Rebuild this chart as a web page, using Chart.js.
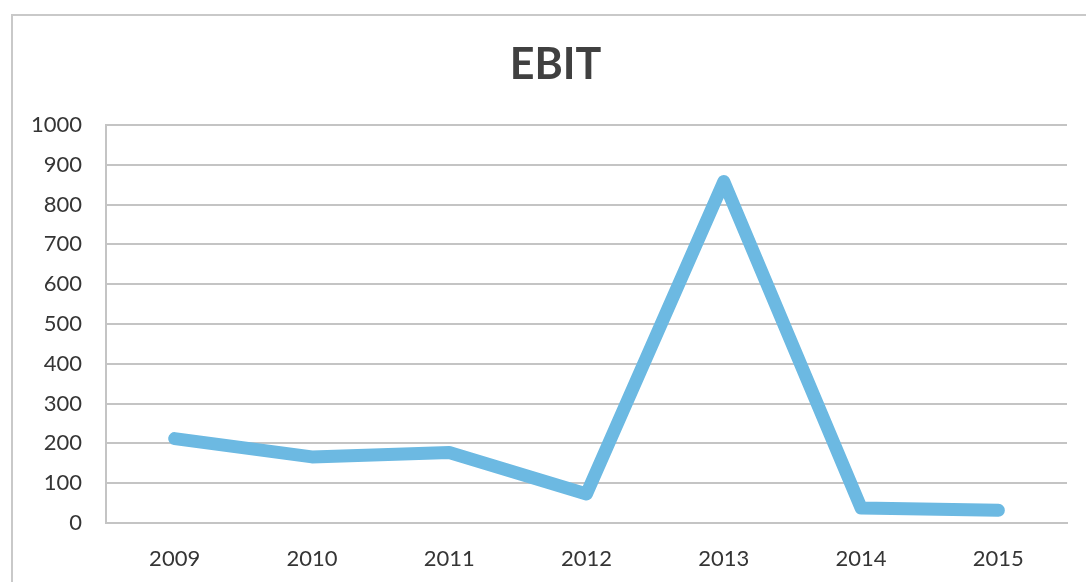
<!DOCTYPE html>
<html>
<head>
<meta charset="utf-8">
<script src="https://cdn.jsdelivr.net/npm/chart.js@4"></script>
<style>
  html, body { margin: 0; padding: 0; background: #fff; overflow: hidden; }
  #frame { position: absolute; left: 11px; top: 14px; width: 1100px; height: 600px; border: 2px solid #c9c9c9; }
  #wrap { position: absolute; left: 0; top: 0; width: 1086px; height: 582px; }
</style>
</head>
<body>
<div id="frame"></div>
<div id="wrap"><canvas id="graficoEbit"></canvas></div>
<script>
const anios = ["2009", "2010", "2011", "2012", "2013", "2014", "2015"];
const ebit = [212, 166, 177, 73, 858, 38, 32];
const titulo = "EBIT";

// deja que las etiquetas del eje y salgan a la izquierda de su caja
const sinRecorte = {
    id: "sinRecorte",
    afterLayout(chart) {
        chart.scales.y.left = 0;
    },
};

const ctx = document.getElementById("graficoEbit").getContext("2d");
new Chart(ctx, {
    type: "line",
    data: {
        labels: anios,
        datasets: [
            {
                label: titulo,
                data: ebit,
                borderColor: "#6cb9e2",
                borderWidth: 13,
                borderCapStyle: "round",
                borderJoinStyle: "round",
                pointRadius: 0,
                tension: 0,
            },
        ],
    },
    options: {
        responsive: true,
        maintainAspectRatio: false,
        animation: false,
        layout: { padding: { left: 44, right: 19, top: 0, bottom: 0 } },
        plugins: {
            legend: { display: false },
            tooltip: { enabled: false },
            title: {
                display: true,
                text: titulo,
                color: "#404040",
                font: { family: "Lato", size: 43, weight: "bold" },
                padding: { top: 39, bottom: 34.4 },
            },
        },
        scales: {
            x: {
                offset: true,
                grid: { display: false },
                border: { display: true, color: "#c4c4c4", width: 2 },
                ticks: {
                    color: "#353535",
                    font: { family: "Lato", size: 22 },
                    padding: 15,
                },
                afterFit(scale) { scale.height = 59; },
            },
            y: {
                min: 0,
                max: 1000,
                ticks: {
                    stepSize: 100,
                    color: "#353535",
                    font: { family: "Lato", size: 22 },
                    padding: 24,
                    callback: (v) => String(v),
                },
                grid: { color: "#c4c4c4", lineWidth: 2, drawTicks: false },
                border: { display: true, color: "#c4c4c4", width: 2 },
                afterFit(scale) { scale.width = 62; },
            },
        },
    },
    plugins: [sinRecorte],
});
</script>
</body>
</html>
